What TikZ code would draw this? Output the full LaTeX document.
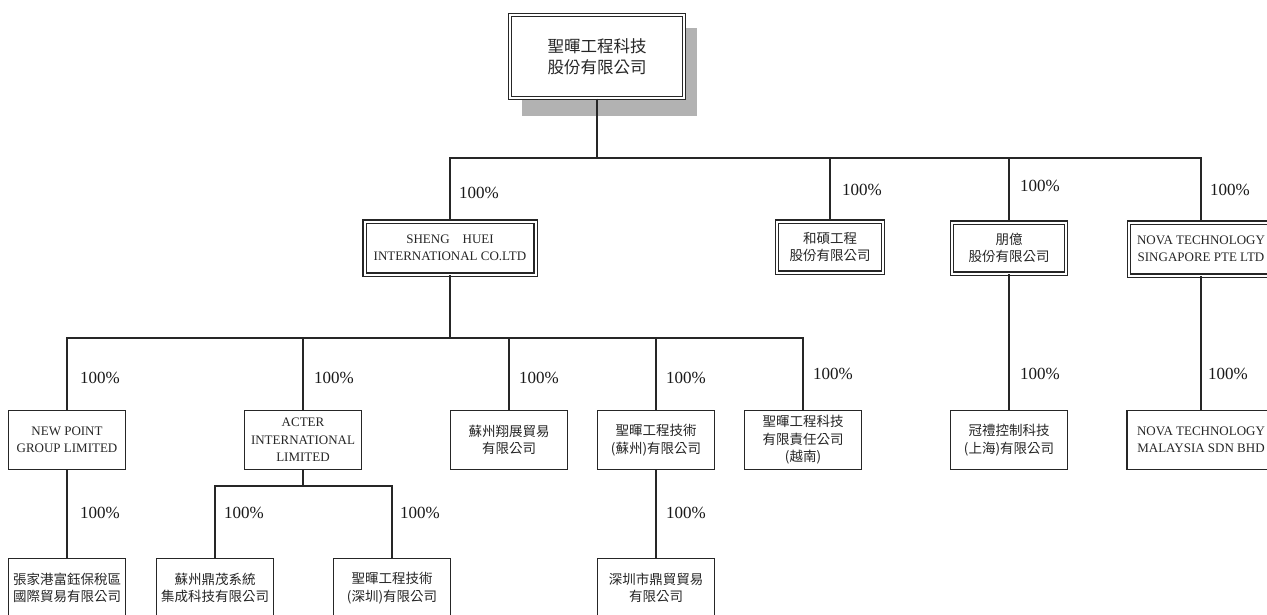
\documentclass[tikz,border=0pt]{standalone}
\usepackage{fontspec}
\setmainfont{Liberation Serif}
\newfontfamily\cjk{Noto Sans CJK TC}
\begin{document}
\begin{tikzpicture}[x=1pt,y=-1pt,
  conn/.style={draw=black!85, line width=1.4pt},
  sbox/.style={draw=black!85, line width=1.5pt, fill=white, minimum width=117pt, minimum height=59pt, inner sep=1pt, align=center},
  dbox/.style={draw=black!85, double=white, double distance=2pt, line width=1.1pt, fill=white, inner sep=1pt, align=center},
  en/.style={font=\fontsize{13}{17.5}\selectfont, text=black!85},
  cn/.style={font=\cjk\fontsize{13.5}{17.5}\selectfont, text=black!85},
  cntop/.style={font=\cjk\fontsize{16.5}{21}\selectfont, text=black!85},
  pct/.style={font=\fontsize{17}{17}\selectfont, text=black!90}
]
\useasboundingbox (0,0) rectangle (1267,615);
\clip (0,0) rectangle (1267,615);
\fill[white] (0,0) rectangle (1267,615);

% shadow of top box
\fill[black!30] (522,28) rectangle (697,116);

% top box
\node[dbox, cntop, minimum width=174pt, minimum height=83pt] (top) at (597,56.5) {聖暉工程科技\\股份有限公司};

% level 1
\node[dbox, en, minimum width=171pt, minimum height=53pt] (sheng) at (450,248) {SHENG\quad HUEI\\INTERNATIONAL CO.LTD};
\node[dbox, cn, minimum width=106pt, minimum height=51pt] (hs) at (830,247) {和碩工程\\股份有限公司};
\node[dbox, cn, minimum width=114pt, minimum height=51pt] (py) at (1009,248) {朋億\\股份有限公司};
\node[dbox, en, minimum width=144pt, minimum height=53pt] (nsg) at (1201,249) {NOVA TECHNOLOGY\\SINGAPORE PTE LTD};

% level 2
\node[sbox, en] (np) at (67,440) {NEW POINT\\GROUP LIMITED};
\node[sbox, en] (acter) at (303,440) {ACTER\\INTERNATIONAL\\LIMITED};
\node[sbox, cn] (xz) at (509,440) {蘇州翔展貿易\\有限公司};
\node[sbox, cn] (sz) at (656,440) {聖暉工程技術\\(蘇州)有限公司};
\node[sbox, cn] (vn) at (803,440) {聖暉工程科技\\有限責任公司\\(越南)};
\node[sbox, cn] (gl) at (1009,440) {冠禮控制科技\\(上海)有限公司};
\node[sbox, en, minimum width=148pt] (nmy) at (1201,440) {NOVA TECHNOLOGY\\MALAYSIA SDN BHD};

% level 3
\node[sbox, cn] (zjg) at (67,588) {張家港富鈺保稅區\\國際貿易有限公司};
\node[sbox, cn] (dm) at (215,588) {蘇州鼎茂系統\\集成科技有限公司};
\node[sbox, cn] (szn) at (392,588) {聖暉工程技術\\(深圳)有限公司};
\node[sbox, cn] (dmy) at (656,588) {深圳市鼎貿貿易\\有限公司};

% connectors
\coordinate (b1) at (597,158);
\draw[conn] (top.south) -- (b1);
\draw[conn] (sheng.north) |- (b1) -| (nsg.north);
\draw[conn] (hs.north) -- (hs.north |- b1);
\draw[conn] (py.north) -- (py.north |- b1);

\coordinate (b2) at (450,338);
\draw[conn] (sheng.south) -- (b2);
\draw[conn] (np.north) |- (b2) -| (vn.north);
\draw[conn] (acter.north) -- (acter.north |- b2);
\draw[conn] (xz.north) -- (xz.north |- b2);
\draw[conn] (sz.north) -- (sz.north |- b2);

\draw[conn] (py.south) -- (gl.north);
\draw[conn] (nsg.south) -- (nmy.north);

\draw[conn] (np.south) -- (zjg.north);
\coordinate (b3) at (303,486);
\draw[conn] (acter.south) -- (b3);
\draw[conn] (dm.north) |- (b3) -| (szn.north);
\draw[conn] (sz.south) -- (dmy.north);

% percentage labels
\node[pct] (p1) at (479,193) {100\%};
\node[pct] (p2) at (862,190) {100\%};
\node[pct] (p3) at (1040,186) {100\%};
\node[pct] (p4) at (1230,190) {100\%};
\node[pct] (p5) at (100,378) {100\%};
\node[pct] (p6) at (334,378) {100\%};
\node[pct] (p7) at (539,378) {100\%};
\node[pct] (p8) at (686,378) {100\%};
\node[pct] (p9) at (833,374) {100\%};
\node[pct] (p10) at (1040,374) {100\%};
\node[pct] (p11) at (1228,374) {100\%};
\node[pct] (p12) at (100,513) {100\%};
\node[pct] (p13) at (244,513) {100\%};
\node[pct] (p14) at (420,513) {100\%};
\node[pct] (p15) at (686,513) {100\%};
\end{tikzpicture}
\end{document}
